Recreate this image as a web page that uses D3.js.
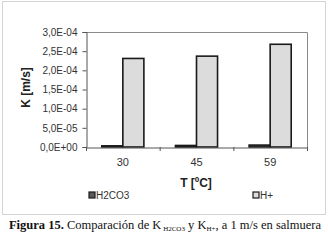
<!DOCTYPE html>
<html lang="es">
<head>
<meta charset="UTF-8">
<title>Figura 15</title>
<script src="https://d3js.org/d3.v7.min.js"></script>
<style>
  body { margin: 0; background: #fff; }
</style>
</head>
<body>
<div id="chart"></div>
<script>
// data
const temps = ["30", "45", "59"];
const seriesNames = ["H2CO3", "H+"];
const kH2CO3 = [3.0e-6, 4.0e-6, 5.0e-6];
const kHplus = [2.31e-4, 2.37e-4, 2.68e-4];
const yTicks = [0, 5e-5, 1e-4, 1.5e-4, 2e-4, 2.5e-4, 3e-4];

const width = 328, height = 240;
const plot = { left: 86, top: 32, right: 307, bottom: 147 };

const svg = d3.select("#chart").append("svg")
    .attr("width", width)
    .attr("height", height);

// outer chart frame
svg.append("rect")
    .attr("x", 2.5).attr("y", 1.5)
    .attr("width", 323).attr("height", 213)
    .attr("fill", "#fff")
    .attr("stroke", "#d4d4d4");

const x = d3.scaleBand().domain(temps).range([plot.left, plot.right]);
const xs = d3.scaleBand().domain(seriesNames)
    .range([x.bandwidth() / 2 - x.bandwidth() / 3.5, x.bandwidth() / 2 + x.bandwidth() / 3.5]);
const y = d3.scaleLinear().domain([0, 3e-4]).range([plot.bottom, plot.top]);

function fmt(v) {
    if (v === 0) return "0,0E+00";
    const e = Math.floor(Math.log10(v) + 1e-9);
    const m = v / Math.pow(10, e);
    const es = (e < 0 ? "-" : "+") + String(Math.abs(e)).padStart(2, "0");
    return m.toFixed(1).replace(".", ",") + "E" + es;
}

// plot area border (top/right)
svg.append("path")
    .attr("d", `M${plot.left},${plot.top + 0.5}H${plot.right + 0.5}V${plot.bottom}`)
    .attr("fill", "none")
    .attr("stroke", "#8a8a8a");

// y axis
const yAxis = svg.append("g")
    .attr("transform", `translate(${plot.left + 0.5},0)`)
    .call(d3.axisLeft(y).tickValues(yTicks).tickFormat(fmt).tickSize(4).tickPadding(5));
yAxis.select(".domain").attr("stroke", "#555");
yAxis.selectAll(".tick line").attr("stroke", "#555");
yAxis.selectAll("text")
    .attr("fill", "#333")
    .style("font-family", "Liberation Sans, Arial, sans-serif")
    .style("font-size", "10px");

// bars
const colors = { "H2CO3": "#5a5a5a", "H+": "#dcdcdc" };
const rows = temps.map((t, i) => ({ t, vals: [
    { s: "H2CO3", v: kH2CO3[i] },
    { s: "H+", v: kHplus[i] }
] }));

svg.selectAll("g.grp")
    .data(rows)
    .enter().append("g")
    .attr("class", "grp")
    .attr("transform", d => `translate(${x(d.t)},0)`)
    .selectAll("rect")
    .data(d => d.vals)
    .enter().append("rect")
    .attr("x", d => xs(d.s))
    .attr("y", d => y(d.v))
    .attr("width", xs.bandwidth())
    .attr("height", d => y(0) - y(d.v))
    .attr("fill", d => colors[d.s])
    .attr("stroke", "#1a1a1a")
    .attr("stroke-width", 1.6);

// x axis
const xAxis = svg.append("g")
    .attr("transform", `translate(0,${plot.bottom + 0.5})`)
    .call(d3.axisBottom(x).tickSize(0).tickPadding(11));
xAxis.select(".domain").attr("stroke", "#555");
xAxis.selectAll("text")
    .attr("fill", "#333")
    .style("font-family", "Liberation Sans, Arial, sans-serif")
    .style("font-size", "11px");
// category boundary ticks
svg.append("g").selectAll("line")
    .data(temps.concat(["end"]))
    .enter().append("line")
    .attr("x1", (d, i) => i < temps.length ? x(d) + 0.5 : plot.right + 0.5)
    .attr("x2", (d, i) => i < temps.length ? x(d) + 0.5 : plot.right + 0.5)
    .attr("y1", plot.bottom)
    .attr("y2", plot.bottom + 4)
    .attr("stroke", "#555");

// axis titles
svg.append("text")
    .attr("transform", `translate(30,${(plot.top + plot.bottom) / 2 - 2}) rotate(-90)`)
    .attr("text-anchor", "middle")
    .attr("fill", "#222")
    .style("font-family", "Liberation Sans, Arial, sans-serif")
    .style("font-size", "12px")
    .style("font-weight", "bold")
    .text("K [m/s]");

svg.append("text")
    .attr("x", 196).attr("y", 187)
    .attr("text-anchor", "middle")
    .attr("fill", "#222")
    .style("font-family", "Liberation Sans, Arial, sans-serif")
    .style("font-size", "12px")
    .style("font-weight", "bold")
    .text("T [ºC]");

// legend
const legendX = [89, 253];
const legend = svg.selectAll("g.leg")
    .data(seriesNames)
    .enter().append("g")
    .attr("class", "leg")
    .attr("transform", (d, i) => `translate(${legendX[i]},192)`);
legend.append("rect")
    .attr("width", 6).attr("height", 6)
    .attr("fill", d => colors[d])
    .attr("stroke", "#1a1a1a")
    .attr("stroke-width", 1.2);
legend.append("text")
    .attr("x", 7).attr("y", 7)
    .attr("fill", "#333")
    .style("font-family", "Liberation Sans, Arial, sans-serif")
    .style("font-size", "10px")
    .text(d => d);

// caption
const cap = svg.append("text")
    .attr("x", 165).attr("y", 229)
    .attr("text-anchor", "middle")
    .attr("fill", "#111")
    .style("font-family", "Liberation Serif, Times New Roman, serif")
    .style("font-size", "12.5px");
cap.append("tspan").style("font-weight", "bold").text("Figura 15.");
cap.append("tspan").text(" Comparación de K");
cap.append("tspan").attr("dy", 2).style("font-size", "7px").text(" H2CO3");
cap.append("tspan").attr("dy", -2).text(" y K");
cap.append("tspan").attr("dy", 2).style("font-size", "7px").text("H+");
cap.append("tspan").attr("dy", -2).text(", a 1 m/s en salmuera");
</script>
</body>
</html>
